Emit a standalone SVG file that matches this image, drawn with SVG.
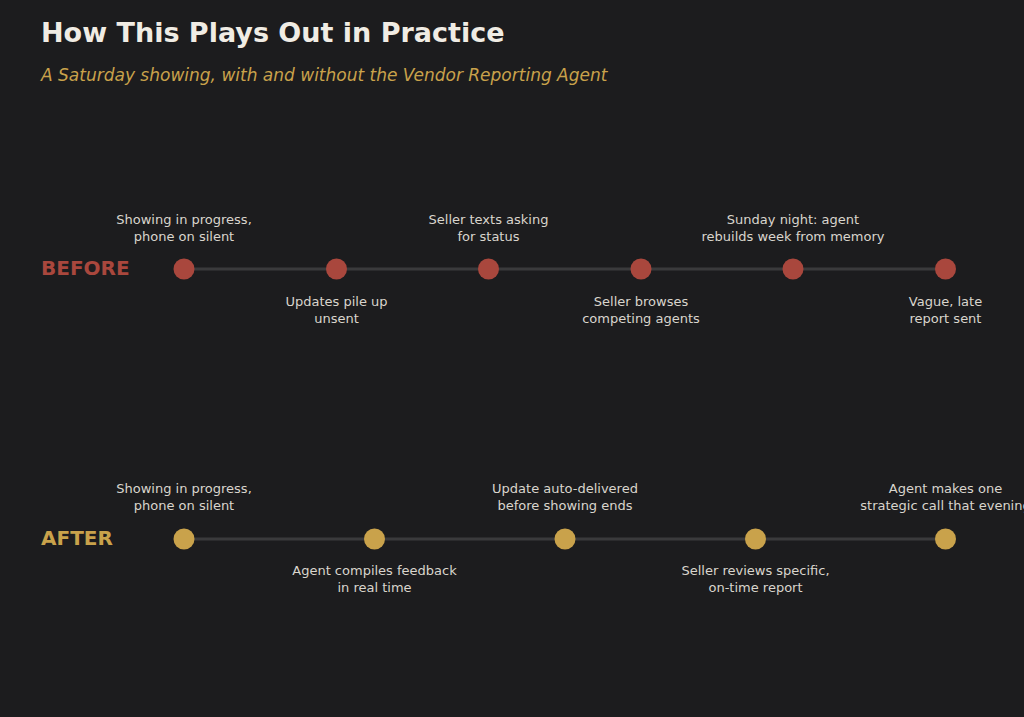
<svg xmlns="http://www.w3.org/2000/svg" width="1024" height="717" viewBox="0 0 1024 717">
<style>
.t{font-family:"DejaVu Sans",sans-serif;font-size:13px;fill:#d9d5cd;text-anchor:middle}
.line{stroke:#3a3a3c;stroke-width:3}
.b{fill:#a9473d}
.a{fill:#c9a24b}
</style>
<rect width="1024" height="717" fill="#1c1c1e"/>
<text x="41" y="42" font-family="DejaVu Sans, sans-serif" font-weight="bold" font-size="27" fill="#f0ece4">How This Plays Out in Practice</text>
<text x="41" y="81" font-family="DejaVu Sans, sans-serif" font-style="italic" font-size="17" fill="#c9a24b">A Saturday showing, with and without the Vendor Reporting Agent</text>
<text x="41" y="275" font-family="DejaVu Sans, sans-serif" font-weight="bold" font-size="20" fill="#a9473d">BEFORE</text>
<text x="41" y="545" font-family="DejaVu Sans, sans-serif" font-weight="bold" font-size="20" fill="#c9a24b">AFTER</text>
<g id="connectors">
<line class="line" x1="184" y1="269" x2="945.5" y2="269"/>
<line class="line" x1="184" y1="539" x2="945.5" y2="539"/>
</g>
<g id="b1"><circle class="b" cx="184" cy="269" r="10.5"/><text class="t" x="184" y="224">Showing in progress,</text><text class="t" x="184" y="241">phone on silent</text></g>
<g id="b2"><circle class="b" cx="336.5" cy="269" r="10.5"/><text class="t" x="336.5" y="306">Updates pile up</text><text class="t" x="336.5" y="323">unsent</text></g>
<g id="b3"><circle class="b" cx="488.5" cy="269" r="10.5"/><text class="t" x="488.5" y="224">Seller texts asking</text><text class="t" x="488.5" y="241">for status</text></g>
<g id="b4"><circle class="b" cx="641" cy="269" r="10.5"/><text class="t" x="641" y="306">Seller browses</text><text class="t" x="641" y="323">competing agents</text></g>
<g id="b5"><circle class="b" cx="793" cy="269" r="10.5"/><text class="t" x="793" y="224">Sunday night: agent</text><text class="t" x="793" y="241">rebuilds week from memory</text></g>
<g id="b6"><circle class="b" cx="945.5" cy="269" r="10.5"/><text class="t" x="945.5" y="306">Vague, late</text><text class="t" x="945.5" y="323">report sent</text></g>
<g id="a1"><circle class="a" cx="184" cy="539" r="10.5"/><text class="t" x="184" y="493">Showing in progress,</text><text class="t" x="184" y="510">phone on silent</text></g>
<g id="a2"><circle class="a" cx="374.5" cy="539" r="10.5"/><text class="t" x="374.5" y="575">Agent compiles feedback</text><text class="t" x="374.5" y="592">in real time</text></g>
<g id="a3"><circle class="a" cx="565" cy="539" r="10.5"/><text class="t" x="565" y="493">Update auto-delivered</text><text class="t" x="565" y="510">before showing ends</text></g>
<g id="a4"><circle class="a" cx="755.5" cy="539" r="10.5"/><text class="t" x="755.5" y="575">Seller reviews specific,</text><text class="t" x="755.5" y="592">on-time report</text></g>
<g id="a5"><circle class="a" cx="945.5" cy="539" r="10.5"/><text class="t" x="945.5" y="493">Agent makes one</text><text class="t" x="945.5" y="510">strategic call that evening</text></g>
</svg>
